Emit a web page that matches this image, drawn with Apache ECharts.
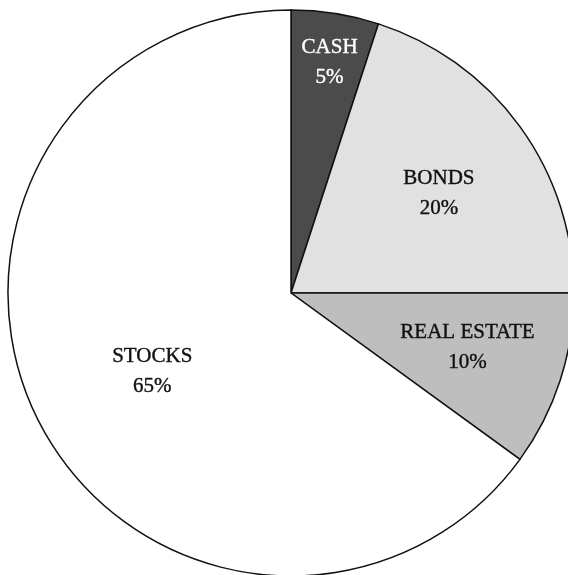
<!DOCTYPE html>
<html><head><meta charset="utf-8">
<script src="https://cdn.jsdelivr.net/npm/echarts@6/dist/echarts.min.js"></script>
<style>html,body{margin:0;padding:0;background:#fff}#c{width:568px;height:575px}</style>
</head><body><div id="c"></div>
<script>
const categories = ['CASH', 'BONDS', 'REAL ESTATE', 'STOCKS'];
const values = [5, 20, 10, 65];

const sliceColors = ['#4b4b4b', '#e1e1e1', '#bebebe', '#ffffff'];
const textColors = ['#ffffff', '#111111', '#111111', '#111111'];
const labelOffsets = [[16, -88], [31, -15], [39, 10], [-10, 13]];

const chart = echarts.init(document.getElementById('c'), null, {renderer: 'canvas'});
chart.setOption({
  animation: false,
  backgroundColor: '#ffffff',
  series: [{
    type: 'pie',
    center: [291, 293],
    radius: 283,
    startAngle: 90,
    clockwise: true,
    avoidLabelOverlap: false,
    itemStyle: {borderColor: '#111', borderWidth: 1.5},
    emphasis: {disabled: true},
    labelLine: {show: false},
    data: categories.map((name, i) => ({
      name: name,
      value: values[i],
      itemStyle: {color: sliceColors[i]},
      label: {
        show: true,
        position: 'inside',
        offset: labelOffsets[i],
        formatter: '{b}\n{d}%',
        fontFamily: 'Liberation Serif',
        fontSize: 21,
        lineHeight: 30,
        color: textColors[i],
        textBorderColor: textColors[i],
        textBorderWidth: 0.4,
        align: 'center'
      }
    }))
  }]
});
</script></body></html>
